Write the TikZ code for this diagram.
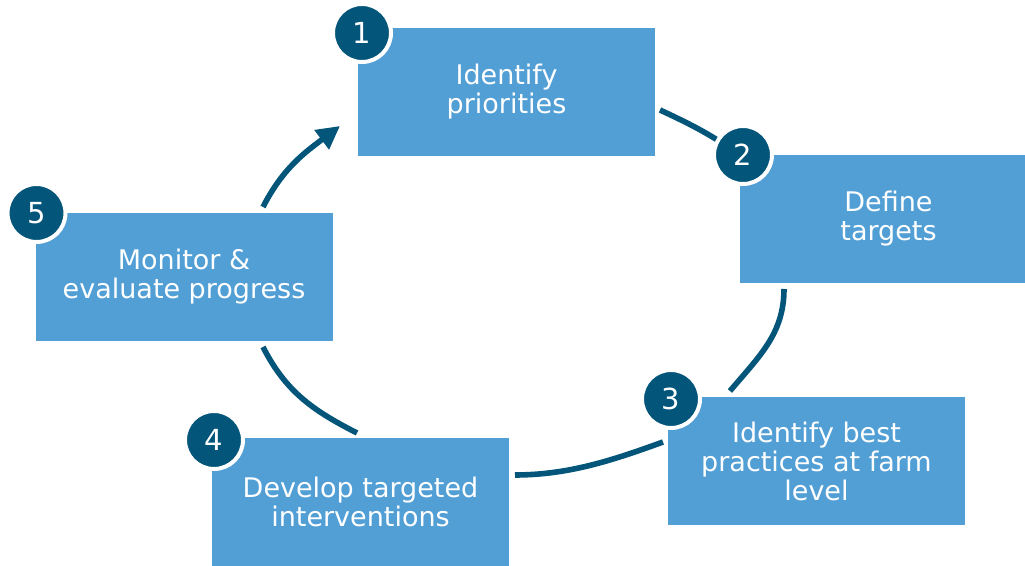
\documentclass[tikz,border=0pt]{standalone}
\usepackage{fontspec}
\setmainfont{DejaVu Sans}
\usetikzlibrary{arrows.meta}
\definecolor{stepblue}{HTML}{529FD6}
\definecolor{stepdark}{HTML}{03557A}
\tikzset{
    step-box/.style = {fill=stepblue, text=white, rectangle, minimum width=148.5pt, minimum height=64pt, inner sep=0pt, outer sep=0pt, align=center, font=\fontsize{13.5}{14.5}\selectfont},
    step-num/.style = {circle, fill=stepdark, draw=white, line width=2pt, minimum size=29pt, inner sep=0pt, text=white, font=\fontsize{14.5}{15}\selectfont},
    cycle-line/.style = {draw=stepdark, line width=2.8pt},
}

\begin{document}
\begin{tikzpicture}[x=0.5pt, y=0.5pt]
\useasboundingbox (0,0) rectangle (1025,566);
\node [step-box] (box1) at (506.5,474) {Identify\\priorities};
\node [step-box] (box2) at (888.5,347) {Define\\targets};
\node [step-box] (box3) at (816.5,105) {Identify best\\practices at farm\\level};
\node [step-box] (box4) at (360.5,64) {Develop targeted\\interventions};
\node [step-box] (box5) at (184,289) {Monitor \&\\evaluate progress};

\draw [cycle-line] ([shift={(5,-18)}]box1.east) to[out=-25, in=145] (box2.north west);
\draw [cycle-line] ([shift={(44,-6)}]box2.south west) to[out=-90, in=50] ([shift={(62,6)}]box3.north west);
\draw [cycle-line] ([shift={(-5,19)}]box3.west) to[out=-160, in=0, looseness=0.9] ([shift={(6,27)}]box4.east);
\draw [cycle-line] ([shift={(-3.5,5)}]box4.north) to[out=153, in=-63] ([shift={(79,-6)}]box5.south);
\draw [cycle-line, -{Triangle[length=11.5pt, width=11.5pt]}] ([shift={(79,6)}]box5.north) to[out=63, in=-143] ([shift={(-18,-34)}]box1.west);

\node [step-num] (num1) at ([shift={(4,-5)}]box1.north west) {1};
\node [step-num] (num2) at ([shift={(3,0)}]box2.north west) {2};
\node [step-num] (num3) at ([shift={(3,-2)}]box3.north west) {3};
\node [step-num] (num4) at ([shift={(2,-2)}]box4.north west) {4};
\node [step-num] (num5) at ([shift={(1,0)}]box5.north west) {5};
\end{tikzpicture}
\end{document}
